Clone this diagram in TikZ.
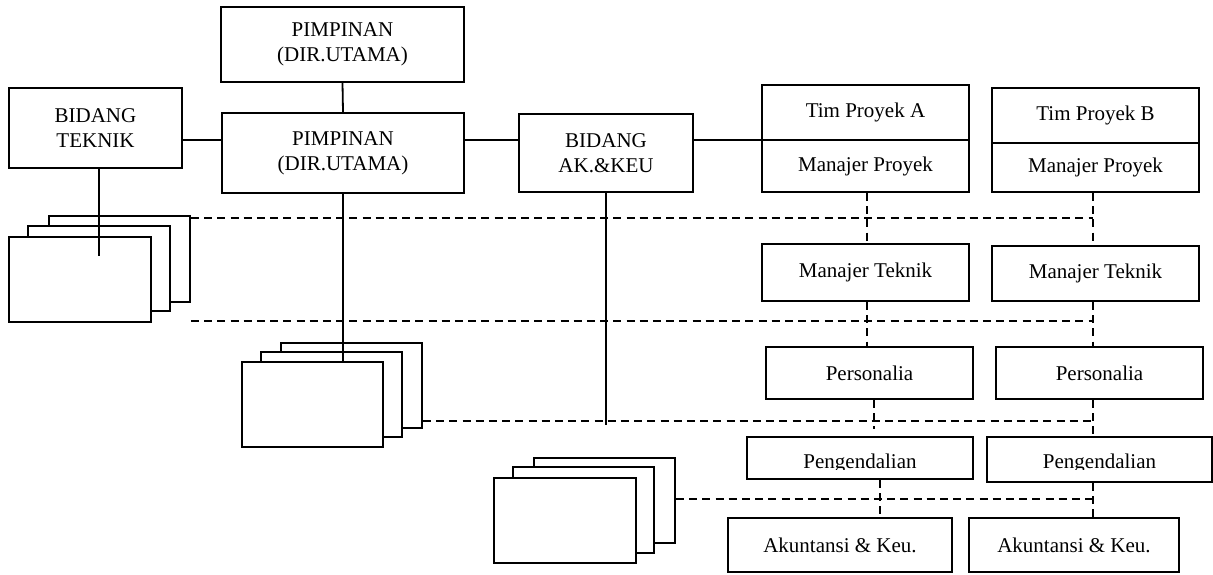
\documentclass[tikz,border=0pt]{standalone}
\usepackage{fontspec}
\setmainfont{Liberation Serif}
% box with corners (x1,y1)-(x2,y2): style, name, x1, y1, x2, y2, text
\newcommand\placebox[7]{%
  \node[#1, minimum width={(#5-#3)*0.5pt}, minimum height={(#6-#4)*0.5pt}]
    (#2) at ({(#3+#5)/2},{(#4+#6)/2}) {#7};}
\begin{document}
\begin{tikzpicture}[x=0.5pt,y=-0.5pt,
  line width=0.9pt,
  orgbox/.style={draw, fill=white, inner sep=0pt, align=center,
    font=\fontsize{10.5}{12.5}\selectfont},
  sheet/.style={draw, fill=white, inner sep=0pt},
  labeltext/.style={inner sep=0pt, font=\fontsize{10.5}{12.5}\selectfont},
  link/.style={line width=0.9pt},
  dashlink/.style={line width=0.9pt, dash pattern=on 4pt off 2.6pt}]
\useasboundingbox (0,0) rectangle (1213,574);

% stacked sheets (back, middle, front)
\placebox{sheet}{sL1}{49}{216}{190}{302}{}
\placebox{sheet}{sL2}{28}{226}{170}{311}{}
\placebox{sheet}{sL3}{9}{237}{151}{322}{}
\placebox{sheet}{sM1}{281}{343}{422}{428}{}
\placebox{sheet}{sM2}{261}{352}{402}{437}{}
\placebox{sheet}{sM3}{242}{362}{383}{447}{}
\placebox{sheet}{sB1}{534}{458}{675}{543}{}
\placebox{sheet}{sB2}{513}{467}{654}{553}{}
\placebox{sheet}{sB3}{494}{478}{636}{563}{}

% organisation boxes
\placebox{orgbox}{dirtop}{221}{7}{464}{82}{PIMPINAN\\(DIR.UTAMA)}
\placebox{orgbox}{tek}{9}{88}{182}{168}{BIDANG\\TEKNIK}
\placebox{orgbox}{dir}{222}{113}{464}{193}{PIMPINAN\\(DIR.UTAMA)}
\placebox{orgbox}{ak}{519}{114}{693}{192}{BIDANG\\AK.\&KEU}
\placebox{orgbox}{timA}{762}{85}{969}{140}{Tim Proyek A}
\placebox{orgbox}{mpA}{762}{140}{969}{192}{Manajer Proyek}
\placebox{orgbox}{timB}{992}{88}{1199}{143}{Tim Proyek B}
\placebox{orgbox}{mpB}{992}{143}{1199}{192}{Manajer Proyek}
\placebox{orgbox}{mtA}{762}{244}{969}{301}{Manajer Teknik}
\placebox{orgbox}{mtB}{992}{246}{1199}{301}{Manajer Teknik}
\placebox{orgbox}{persA}{766}{347}{973}{399}{Personalia}
\placebox{orgbox}{persB}{996}{347}{1203}{399}{Personalia}
\placebox{orgbox}{pengA}{747}{437}{973}{479}{}
\placebox{orgbox}{pengB}{987}{437}{1212}{482}{}
\placebox{orgbox}{akA}{728}{518}{952}{572}{Akuntansi \& Keu.}
\placebox{orgbox}{akB}{969}{518}{1179}{572}{Akuntansi \& Keu.}

% Pengendalian labels, cut at the baseline
\coordinate (pengBase) at (0,468);
\begin{scope}
  \clip (pengA.north west) rectangle (pengA.east |- 0,469);
  \node[labeltext, anchor=base] (pengAtext) at (pengA.center |- pengBase) {Pengendalian};
\end{scope}
\begin{scope}
  \clip (pengB.north west) rectangle (pengB.east |- 0,469);
  \node[labeltext, anchor=base] (pengBtext) at (pengB.center |- pengBase) {Pengendalian};
\end{scope}

% solid connectors
\coordinate (busy) at (0,140);
\draw[link] (dirtop.south) -- (dir.north);
\draw[link] (tek.east |- busy) -- (dir.west |- busy);
\draw[link] (dir.east |- busy) -- (ak.west |- busy);
\draw[link] (ak.east |- busy) -- (timA.west |- busy);
\coordinate (tekdrop) at (99,256);
\draw[link] (tekdrop |- tek.south) -- (tekdrop);
\draw[link] (dir.south) -- (dir.south |- sM3.north);
\coordinate (akdrop) at (606,425);
\draw[link] (akdrop |- ak.south) -- (akdrop);

% dashed connectors, column A
\coordinate (colA1) at (867,0);
\coordinate (colA2) at (874,0);
\coordinate (colA3) at (880,0);
\coordinate (colB) at (1093,0);
\draw[dashlink] (mpA.south -| colA1) -- (mtA.north -| colA1);
\draw[dashlink] (mtA.south -| colA1) -- (persA.north -| colA1);
\draw[dashlink, shorten >=3.5pt] (persA.south -| colA2) -- (pengA.north -| colA2);
\draw[dashlink] (pengA.south -| colA3) -- (akA.north -| colA3);

% dashed connectors, column B
\draw[dashlink] (mpB.south -| colB) -- (mtB.north -| colB);
\draw[dashlink] (mtB.south -| colB) -- (persB.north -| colB);
\draw[dashlink] (persB.south -| colB) -- (pengB.north -| colB);
\draw[dashlink] (pengB.south -| colB) -- (akB.north -| colB);

% dashed rows from the sheet stacks
\coordinate (row1) at (0,218);
\coordinate (row2) at (0,321);
\coordinate (row3) at (0,421);
\coordinate (row4) at (0,499);
\draw[dashlink] (sL1.east |- row1) -- (colB |- row1);
\draw[dashlink] (sL1.east |- row2) -- (colB |- row2);
\draw[dashlink] (sM1.east |- row3) -- (colB |- row3);
\draw[dashlink] (sB1.east |- row4) -- (colB |- row4);
\end{tikzpicture}
\end{document}
